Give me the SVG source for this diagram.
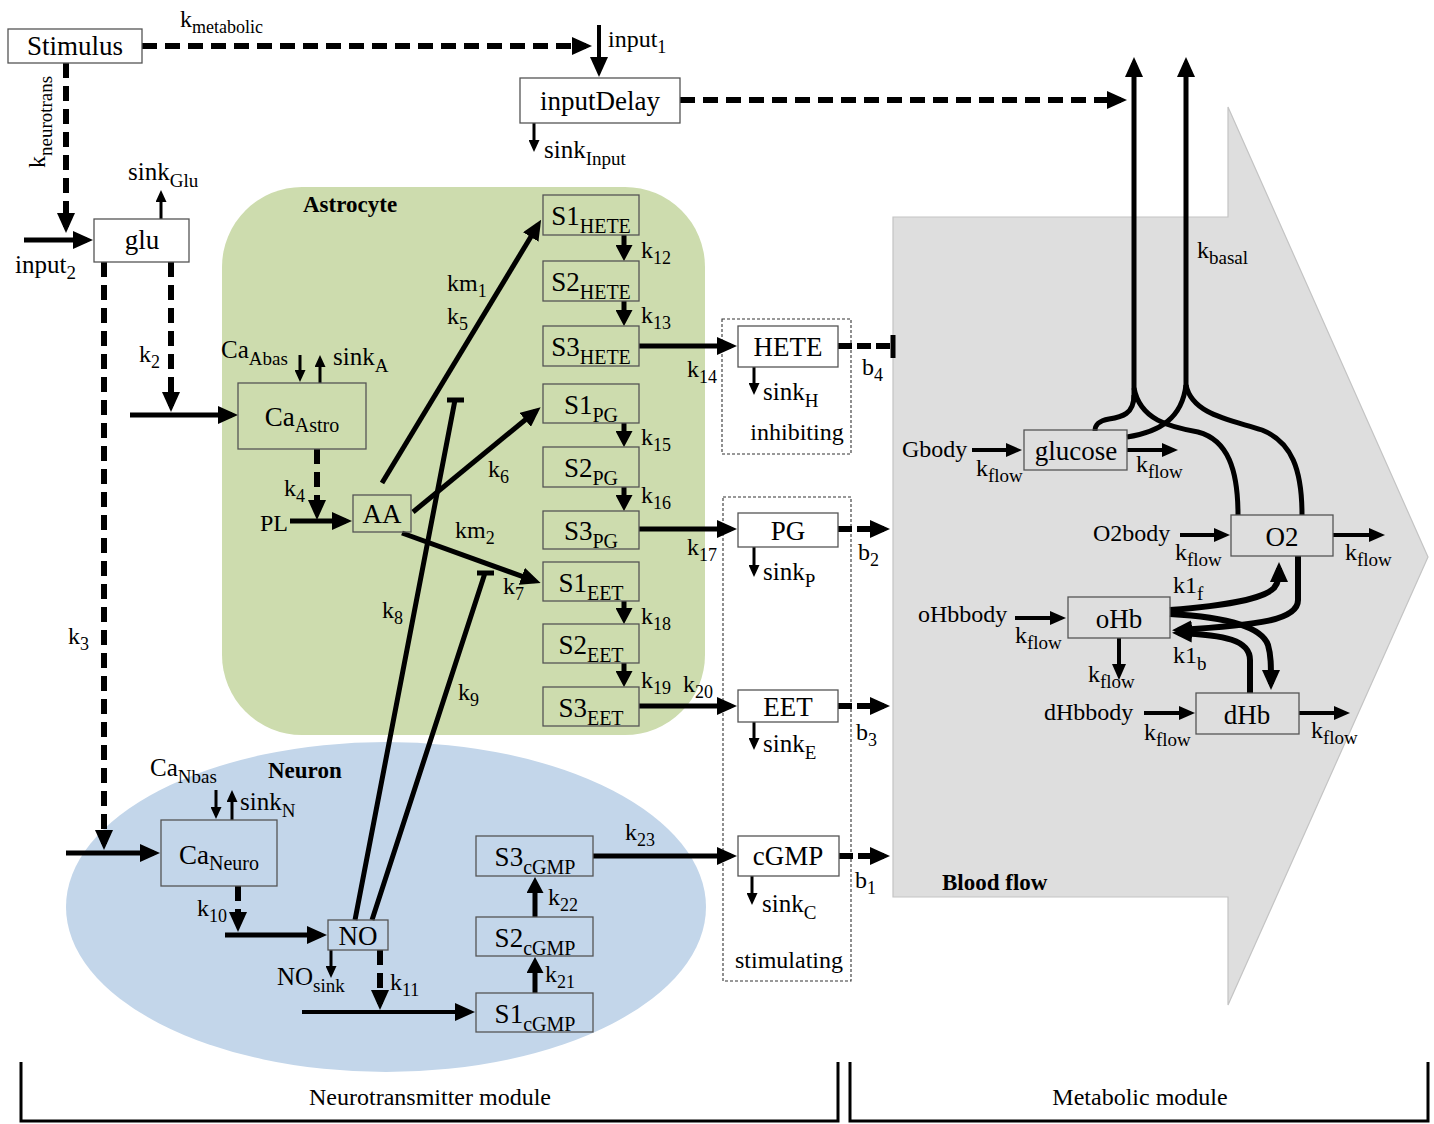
<svg xmlns="http://www.w3.org/2000/svg" width="1434" height="1124" viewBox="0 0 1434 1124">
<defs>
<style>
.t{font-family:"Liberation Serif","Times New Roman",serif;fill:#000}
.b27{font-size:27px}
.l24{font-size:24px}
.l25{font-size:25px}
.s18{font-size:18px}
.s19{font-size:19px}
.s20{font-size:20px}
.mid{text-anchor:middle}
.bold{font-weight:bold;font-size:23px}
.box{fill:none;stroke:#555;stroke-width:1.3}
.wbox{fill:#fff;stroke:#555;stroke-width:1.3}
.dbox{fill:none;stroke:#333;stroke-width:1.1;stroke-dasharray:3 2}
.ln{fill:none;stroke:#000;stroke-width:5}
.ln6{fill:none;stroke:#000;stroke-width:6}
.ln4{fill:none;stroke:#000;stroke-width:4}
.ln3{fill:none;stroke:#000;stroke-width:3}
.ds{fill:none;stroke:#000;stroke-width:6;stroke-dasharray:15 8}
.ds2{fill:none;stroke:#000;stroke-width:6;stroke-dasharray:14 5}
.br{fill:none;stroke:#000;stroke-width:3}
</style>
<marker id="a" markerUnits="userSpaceOnUse" markerWidth="20" markerHeight="18" refX="14" refY="9" orient="auto"><path d="M0,0 L20,9 L0,18 z" fill="#000"/></marker>
<marker id="m" markerUnits="userSpaceOnUse" markerWidth="16" markerHeight="17" refX="10" refY="8.5" orient="auto"><path d="M0,0 L16,8.5 L0,17 z" fill="#000"/></marker>
<marker id="k" markerUnits="userSpaceOnUse" markerWidth="16" markerHeight="14" refX="11" refY="7" orient="auto"><path d="M0,0 L16,7 L0,14 z" fill="#000"/></marker>
<marker id="s" markerUnits="userSpaceOnUse" markerWidth="12" markerHeight="11" refX="8" refY="5.5" orient="auto"><path d="M0,0 L12,5.5 L0,11 z" fill="#000"/></marker>
</defs>

<g id="regions">
<polygon points="893,217 1228,217 1228,107 1428,557 1228,1005 1228,897 893,897" fill="#dedede" stroke="#c4c4c4" stroke-width="1.2"/>
<rect x="222" y="187" width="483" height="548" rx="80" ry="80" fill="#cddcae"/>
<ellipse cx="386" cy="907" rx="320" ry="165" fill="#c3d6ea"/>
<text class="t bold" x="303" y="212">Astrocyte</text>
<text class="t bold" x="268" y="778">Neuron</text>
<text class="t bold" x="942" y="890">Blood flow</text>
<rect class="dbox" x="722" y="319" width="129" height="135"/>
<rect class="dbox" x="723" y="497" width="128" height="484"/>
</g>

<g id="connectors">
<!-- dashed -->
<path class="ds" d="M142,46 H586" marker-end="url(#a)"/>
<path class="ds" d="M66,63 V227" marker-end="url(#a)"/>
<path class="ds" d="M680,100 H1121" marker-end="url(#a)"/>
<path class="ds" d="M104,262 V844" marker-end="url(#a)"/>
<path class="ds" d="M171,262 V406" marker-end="url(#a)"/>
<path class="ds" d="M317,449 V514" marker-end="url(#a)"/>
<path class="ds" d="M238,886 V926" marker-end="url(#a)"/>
<path class="ds" d="M380,950 V1004" marker-end="url(#a)"/>
<path class="ds2" d="M838,346 H893"/>
<path class="ln" d="M893,335 V358"/>
<path class="ds2" d="M838,529 H884" marker-end="url(#a)"/>
<path class="ds2" d="M838,706 H884" marker-end="url(#a)"/>
<path class="ds2" d="M839,856 H884" marker-end="url(#a)"/>
<!-- solid -->
<path class="ln4" d="M599,25 V71" marker-end="url(#a)"/>
<path class="ln" d="M24,240 H87" marker-end="url(#a)"/>
<path class="ln" d="M130,415 H232" marker-end="url(#a)"/>
<path class="ln" d="M290,521 H346" marker-end="url(#a)"/>
<path class="ln" d="M382,483 L538,225" marker-end="url(#a)"/>
<path class="ln" d="M413,512 L536,411" marker-end="url(#a)"/>
<path class="ln" d="M402,533 L535,581" marker-end="url(#a)"/>
<path class="ln" d="M355,920 L455,400 M447,400 H464"/>
<path class="ln" d="M372,920 L485,573 M477,573 H494"/>
<path class="ln" d="M639,346 H731" marker-end="url(#a)"/>
<path class="ln" d="M639,529 H731" marker-end="url(#a)"/>
<path class="ln" d="M639,706 H731" marker-end="url(#a)"/>
<path class="ln" d="M66,853 H154" marker-end="url(#a)"/>
<path class="ln" d="M225,935 H321" marker-end="url(#a)"/>
<path class="ln4" d="M302,1012 H469" marker-end="url(#a)"/>
<path class="ln" d="M535,993 V963" marker-end="url(#m)"/>
<path class="ln" d="M535,917 V883" marker-end="url(#m)"/>
<path class="ln" d="M593,856 H731" marker-end="url(#a)"/>
<path class="ln" d="M624,235 V255" marker-end="url(#m)"/>
<path class="ln" d="M624,301 V320" marker-end="url(#m)"/>
<path class="ln" d="M624,423 V441" marker-end="url(#m)"/>
<path class="ln" d="M624,487 V505" marker-end="url(#m)"/>
<path class="ln" d="M624,601 V618" marker-end="url(#m)"/>
<path class="ln" d="M624,663 V681" marker-end="url(#m)"/>
<!-- sinks -->
<path class="ln3" d="M534,123 V148" marker-end="url(#s)"/>
<path class="ln3" d="M161,219 V194" marker-end="url(#s)"/>
<path class="ln3" d="M300,355 V378" marker-end="url(#s)"/>
<path class="ln3" d="M320,383 V359" marker-end="url(#s)"/>
<path class="ln3" d="M754,367 V391" marker-end="url(#s)"/>
<path class="ln3" d="M754,547 V573" marker-end="url(#s)"/>
<path class="ln3" d="M754,722 V746" marker-end="url(#s)"/>
<path class="ln3" d="M752,876 V901" marker-end="url(#s)"/>
<path class="ln3" d="M216,790 V815" marker-end="url(#s)"/>
<path class="ln3" d="M232,820 V794" marker-end="url(#s)"/>
<path class="ln3" d="M331,950 V974" marker-end="url(#s)"/>
<!-- metabolic -->
<path class="ln" d="M1134,402 V63" marker-end="url(#a)"/>
<path class="ln" d="M1186,392 V63" marker-end="url(#a)"/>
<path class="ln" d="M1134,395 C1134,414 1122,417 1109,419 C1098,421 1095,425 1095,431"/>
<path class="ln" d="M1134,388 C1140,420 1170,427 1198,432 C1228,440 1238,470 1238,515"/>
<path class="ln" d="M1186,385 C1182,418 1160,432 1127,437"/>
<path class="ln" d="M1186,385 C1192,415 1232,420 1262,430 C1292,442 1302,470 1302,515"/>
<path class="ln4" d="M972,450 H1017" marker-end="url(#k)"/>
<path class="ln4" d="M1127,450 H1173" marker-end="url(#k)"/>
<path class="ln4" d="M1180,535 H1225" marker-end="url(#k)"/>
<path class="ln4" d="M1333,535 H1380" marker-end="url(#k)"/>
<path class="ln4" d="M1015,618 H1061" marker-end="url(#k)"/>
<path class="ln4" d="M1119,638 V675" marker-end="url(#k)"/>
<path class="ln4" d="M1144,713 H1190" marker-end="url(#k)"/>
<path class="ln4" d="M1299,713 H1345" marker-end="url(#k)"/>
<path class="ln6" d="M1170,610 C1220,606 1262,600 1274,588 C1279,582 1279,576 1279,568" marker-end="url(#a)"/>
<path class="ln6" d="M1298,556 V600 C1298,620 1260,625 1178,630" marker-end="url(#a)"/>
<path class="ln6" d="M1170,614 C1230,617 1262,628 1268,645 C1271,655 1271,665 1271,684" marker-end="url(#a)"/>
<path class="ln6" d="M1250,693 V660 C1250,640 1225,635 1178,633" marker-end="url(#a)"/>
<!-- brackets -->
<path class="br" d="M21,1062 V1121 H838 V1062"/>
<path class="br" d="M850,1062 V1121 H1428 V1062"/>
</g>

<g id="labels">
<text class="t l24" x="180" y="27">k<tspan class="s18" dy="6">metabolic</tspan></text>
<text class="t l24" x="608" y="47">input<tspan class="s18" dy="6">1</tspan></text>
<text class="t l25" x="544" y="158">sink<tspan class="s19" dy="7">Input</tspan></text>
<text class="t l24" transform="translate(45,168) rotate(-90)">k<tspan class="s19" dy="7">neurotrans</tspan></text>
<text class="t l25" x="128" y="180">sink<tspan class="s19" dy="7">Glu</tspan></text>
<text class="t l25" x="15" y="273">input<tspan class="s19" dy="6">2</tspan></text>
<text class="t l24" x="139" y="362">k<tspan class="s18" dy="6">2</tspan></text>
<text class="t l24" x="68" y="644">k<tspan class="s18" dy="6">3</tspan></text>
<text class="t l25" x="221" y="358">Ca<tspan class="s19" dy="7">Abas</tspan></text>
<text class="t l25" x="333" y="365">sink<tspan class="s19" dy="7">A</tspan></text>
<text class="t l24" x="284" y="496">k<tspan class="s18" dy="6">4</tspan></text>
<text class="t l24" x="260" y="531">PL</text>
<text class="t l24" x="447" y="291">km<tspan class="s18" dy="6">1</tspan></text>
<text class="t l24" x="447" y="324">k<tspan class="s18" dy="6">5</tspan></text>
<text class="t l24" x="488" y="477">k<tspan class="s18" dy="6">6</tspan></text>
<text class="t l24" x="455" y="538">km<tspan class="s18" dy="6">2</tspan></text>
<text class="t l24" x="503" y="594">k<tspan class="s18" dy="6">7</tspan></text>
<text class="t l24" x="382" y="618">k<tspan class="s18" dy="6">8</tspan></text>
<text class="t l24" x="458" y="700">k<tspan class="s18" dy="6">9</tspan></text>
<text class="t l24" x="641" y="258">k<tspan class="s18" dy="6">12</tspan></text>
<text class="t l24" x="641" y="323">k<tspan class="s18" dy="6">13</tspan></text>
<text class="t l24" x="687" y="377">k<tspan class="s18" dy="6">14</tspan></text>
<text class="t l24" x="641" y="445">k<tspan class="s18" dy="6">15</tspan></text>
<text class="t l24" x="641" y="503">k<tspan class="s18" dy="6">16</tspan></text>
<text class="t l24" x="687" y="555">k<tspan class="s18" dy="6">17</tspan></text>
<text class="t l24" x="641" y="624">k<tspan class="s18" dy="6">18</tspan></text>
<text class="t l24" x="641" y="688">k<tspan class="s18" dy="6">19</tspan></text>
<text class="t l24" x="683" y="692">k<tspan class="s18" dy="6">20</tspan></text>
<text class="t l25" x="763" y="400">sink<tspan class="s19" dy="7">H</tspan></text>
<text class="t l24 mid" x="797" y="440">inhibiting</text>
<text class="t l24" x="862" y="375">b<tspan class="s18" dy="6">4</tspan></text>
<text class="t l25" x="763" y="580">sink<tspan class="s19" dy="7">P</tspan></text>
<text class="t l24" x="858" y="560">b<tspan class="s18" dy="6">2</tspan></text>
<text class="t l25" x="763" y="752">sink<tspan class="s19" dy="7">E</tspan></text>
<text class="t l24" x="856" y="740">b<tspan class="s18" dy="6">3</tspan></text>
<text class="t l25" x="762" y="912">sink<tspan class="s19" dy="7">C</tspan></text>
<text class="t l24 mid" x="789" y="968">stimulating</text>
<text class="t l24" x="855" y="888">b<tspan class="s18" dy="6">1</tspan></text>
<text class="t l25" x="150" y="776">Ca<tspan class="s19" dy="7">Nbas</tspan></text>
<text class="t l25" x="240" y="810">sink<tspan class="s19" dy="7">N</tspan></text>
<text class="t l24" x="197" y="916">k<tspan class="s18" dy="6">10</tspan></text>
<text class="t l25" x="277" y="985">NO<tspan class="s19" dy="7">sink</tspan></text>
<text class="t l24" x="390" y="990">k<tspan class="s18" dy="6">11</tspan></text>
<text class="t l24" x="548" y="905">k<tspan class="s18" dy="6">22</tspan></text>
<text class="t l24" x="545" y="982">k<tspan class="s18" dy="6">21</tspan></text>
<text class="t l24" x="625" y="840">k<tspan class="s18" dy="6">23</tspan></text>
<text class="t l24" x="1197" y="258">k<tspan class="s19" dy="6">basal</tspan></text>
<text class="t l24" x="902" y="457">Gbody</text>
<text class="t l24" x="976" y="476">k<tspan class="s19" dy="6">flow</tspan></text>
<text class="t l24" x="1136" y="472">k<tspan class="s19" dy="6">flow</tspan></text>
<text class="t l24" x="1093" y="541">O2body</text>
<text class="t l24" x="1175" y="560">k<tspan class="s19" dy="6">flow</tspan></text>
<text class="t l24" x="1345" y="560">k<tspan class="s19" dy="6">flow</tspan></text>
<text class="t l24" x="1173" y="593">k1<tspan class="s19" dy="7">f</tspan></text>
<text class="t l24" x="918" y="622">oHbbody</text>
<text class="t l24" x="1015" y="643">k<tspan class="s19" dy="6">flow</tspan></text>
<text class="t l24" x="1088" y="682">k<tspan class="s19" dy="6">flow</tspan></text>
<text class="t l24" x="1173" y="663">k1<tspan class="s19" dy="7">b</tspan></text>
<text class="t l24" x="1044" y="720">dHbbody</text>
<text class="t l24" x="1144" y="740">k<tspan class="s19" dy="6">flow</tspan></text>
<text class="t l24" x="1311" y="738">k<tspan class="s19" dy="6">flow</tspan></text>
<text class="t l24 mid" x="430" y="1105">Neurotransmitter module</text>
<text class="t l24 mid" x="1140" y="1105">Metabolic module</text>
</g>

<g id="n-stimulus"><rect class="wbox" x="8" y="29" width="134" height="34"/><text class="t b27 mid" x="75" y="55">Stimulus</text></g>
<g id="n-inputDelay"><rect class="wbox" x="520" y="78" width="160" height="45"/><text class="t b27 mid" x="600" y="110">inputDelay</text></g>
<g id="n-glu"><rect class="wbox" x="94" y="219" width="95" height="43"/><text class="t b27 mid" x="142" y="249">glu</text></g>
<g id="n-caastro"><rect class="box" x="238" y="383" width="128" height="66"/><text class="t b27 mid" x="302" y="426">Ca<tspan class="s20" dy="6">Astro</tspan></text></g>
<g id="n-aa"><rect class="box" x="353" y="495" width="58" height="37"/><text class="t b27 mid" x="382" y="523">AA</text></g>
<g id="n-s1hete"><rect class="box" x="543" y="195" width="96" height="40"/><text class="t b27 mid" x="591" y="225">S1<tspan class="s20" dy="8">HETE</tspan></text></g>
<g id="n-s2hete"><rect class="box" x="543" y="261" width="96" height="40"/><text class="t b27 mid" x="591" y="291">S2<tspan class="s20" dy="8">HETE</tspan></text></g>
<g id="n-s3hete"><rect class="box" x="543" y="326" width="96" height="40"/><text class="t b27 mid" x="591" y="356">S3<tspan class="s20" dy="8">HETE</tspan></text></g>
<g id="n-s1pg"><rect class="box" x="543" y="384" width="96" height="39"/><text class="t b27 mid" x="591" y="414">S1<tspan class="s20" dy="8">PG</tspan></text></g>
<g id="n-s2pg"><rect class="box" x="543" y="447" width="96" height="40"/><text class="t b27 mid" x="591" y="477">S2<tspan class="s20" dy="8">PG</tspan></text></g>
<g id="n-s3pg"><rect class="box" x="543" y="511" width="96" height="38"/><text class="t b27 mid" x="591" y="540">S3<tspan class="s20" dy="8">PG</tspan></text></g>
<g id="n-s1eet"><rect class="box" x="543" y="562" width="96" height="39"/><text class="t b27 mid" x="591" y="592">S1<tspan class="s20" dy="8">EET</tspan></text></g>
<g id="n-s2eet"><rect class="box" x="543" y="624" width="96" height="39"/><text class="t b27 mid" x="591" y="654">S2<tspan class="s20" dy="8">EET</tspan></text></g>
<g id="n-s3eet"><rect class="box" x="543" y="687" width="96" height="39"/><text class="t b27 mid" x="591" y="717">S3<tspan class="s20" dy="8">EET</tspan></text></g>
<g id="n-hete"><rect class="wbox" x="738" y="326" width="100" height="41"/><text class="t b27 mid" x="788" y="356">HETE</text></g>
<g id="n-pg"><rect class="wbox" x="738" y="513" width="100" height="34"/><text class="t b27 mid" x="788" y="540">PG</text></g>
<g id="n-eet"><rect class="wbox" x="738" y="690" width="100" height="32"/><text class="t b27 mid" x="788" y="716">EET</text></g>
<g id="n-cgmp"><rect class="wbox" x="738" y="836" width="101" height="40"/><text class="t b27 mid" x="788" y="865">cGMP</text></g>
<g id="n-caneuro"><rect class="box" x="161" y="820" width="116" height="66"/><text class="t b27 mid" x="219" y="864">Ca<tspan class="s20" dy="6">Neuro</tspan></text></g>
<g id="n-no"><rect class="box" x="328" y="920" width="60" height="30"/><text class="t b27 mid" x="358" y="945">NO</text></g>
<g id="n-s3cgmp"><rect class="box" x="476" y="836" width="117" height="40"/><text class="t b27 mid" x="535" y="866">S3<tspan class="s20" dy="8">cGMP</tspan></text></g>
<g id="n-s2cgmp"><rect class="box" x="476" y="917" width="117" height="39"/><text class="t b27 mid" x="535" y="947">S2<tspan class="s20" dy="8">cGMP</tspan></text></g>
<g id="n-s1cgmp"><rect class="box" x="476" y="993" width="117" height="39"/><text class="t b27 mid" x="535" y="1023">S1<tspan class="s20" dy="8">cGMP</tspan></text></g>
<g id="n-glucose"><rect class="box" x="1024" y="430" width="103" height="40"/><text class="t b27 mid" x="1076" y="460">glucose</text></g>
<g id="n-o2"><rect class="box" x="1231" y="515" width="102" height="41"/><text class="t b27 mid" x="1282" y="546">O2</text></g>
<g id="n-ohb"><rect class="box" x="1068" y="597" width="102" height="41"/><text class="t b27 mid" x="1119" y="628">oHb</text></g>
<g id="n-dhb"><rect class="box" x="1196" y="693" width="103" height="41"/><text class="t b27 mid" x="1247" y="724">dHb</text></g>
</svg>
